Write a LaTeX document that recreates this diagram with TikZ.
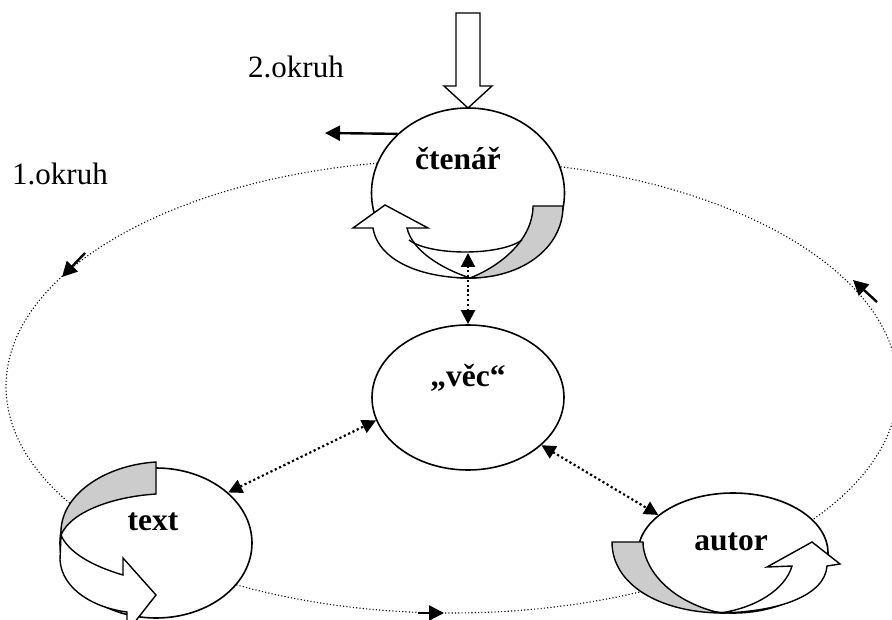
\documentclass[tikz,border=0pt]{standalone}
\usepackage{fontspec}
\setmainfont{Liberation Serif}
\usetikzlibrary{shapes.geometric,arrows.meta}
\tikzset{
  bubble/.style={ellipse,draw,fill=white,line width=1.6pt,inner sep=0pt},
  lbl/.style={anchor=base,font=\fontsize{31.5}{37}\selectfont\bfseries,inner sep=0pt},
  plain/.style={anchor=base west,font=\fontsize{31}{37}\selectfont,inner sep=0pt},
  link/.style={line width=2.2pt,dash pattern=on 2.2pt off 2.6pt,{Triangle[length=14pt,width=14pt]}-{Triangle[length=14pt,width=14pt]}},
  ring/.style={line width=1.1pt,dash pattern=on 1.1pt off 2.2pt},
  flow/.style={line width=2.4pt,-{Triangle[length=15pt,width=15pt]}},
  band/.style={draw,line width=1.4pt,line join=miter},
}
\begin{document}
\begin{tikzpicture}[x=1pt,y=-1pt]
\useasboundingbox (0,0) rectangle (892,620);
\clip (0,0) rectangle (892,620);
% outer dotted ring
\draw[ring] (452,386.5) ellipse [x radius=446pt, y radius=226.5pt];
\draw[flow] (85,253) -- (62,277);
\draw[flow] (877,302) -- (853,280);
\draw[flow] (418,613) -- (444,613);
% top hollow arrow
\draw[band,fill=white] (456,13) -- (480,13) -- (480,86) -- (492,86) -- (468,108) -- (444,86) -- (456,86) -- cycle;
% ellipses
\node[bubble,minimum width=193pt,minimum height=170pt] (ct) at (468,193) {};
\node[bubble,minimum width=192pt,minimum height=145pt] (vec) at (468,397.5) {};
\node[bubble,minimum width=192pt,minimum height=150pt] (txt) at (156,543) {};
\node[bubble,minimum width=190pt,minimum height=120pt] (aut) at (733,553) {};
% circular arrow of ctenar
\draw[band,fill=black!20] (533,206) -- (563,206) .. controls (563,248) and (522,278) .. (470,278)
   .. controls (503,265) and (533,238) .. (533,206) -- cycle;
\draw[band,fill=white] (373,228) .. controls (378,260) and (420,278) .. (470,278)
   .. controls (440,268) and (412,250) .. (407,228) -- (428,228) -- (385,205) -- (353,228) -- cycle;
\draw[line width=1.4pt] (409,240) .. controls (430,256) and (500,256) .. (522,240);
% circular arrow of text
\draw[band,fill=black!20] (156,462) -- (156,494) .. controls (110,497) and (70,513) .. (61,535)
   .. controls (59,495) and (105,465) .. (156,462) -- cycle;
\draw[band,fill=white] (61,535) -- (60,560) .. controls (62,590) and (95,608) .. (127,612)
   -- (127,632) -- (156,595) -- (123,558) -- (123,575)
   .. controls (92,566) and (68,552) .. (61,535) -- cycle;
% circular arrow of autor
\draw[band,fill=black!20] (612,542) -- (643,542) .. controls (643,565) and (665,600) .. (720,613)
   .. controls (660,612) and (612,585) .. (612,542) -- cycle;
\draw[band,fill=white] (720,613) .. controls (780,612) and (825,595) .. (827,566)
   -- (840,564) -- (812,542) -- (767,567) -- (792,566)
   .. controls (785,590) and (755,608) .. (720,613) -- cycle;
% labels
\node[lbl] (ctl) at (458,170) {čtenář};
\node[lbl] (vecl) at (468,386) {„věc“};
\node[lbl] (txtl) at (153,530) {text};
\node[lbl] (autl) at (731,550) {autor};
\node[plain] (ok2) at (248,78) {2.okruh};
\node[plain] (ok1) at (12,185) {1.okruh};
% connectors
\coordinate (ctin) at (468,253);
\draw[link] (vec.north) -- (ctin);
\draw[link] (txt.35) -- (vec.194);
\draw[link] (vec.-33) -- (aut.153);
\coordinate (out) at (325,133);
\draw[flow] (ct.140) -- (out);
\end{tikzpicture}
\end{document}
